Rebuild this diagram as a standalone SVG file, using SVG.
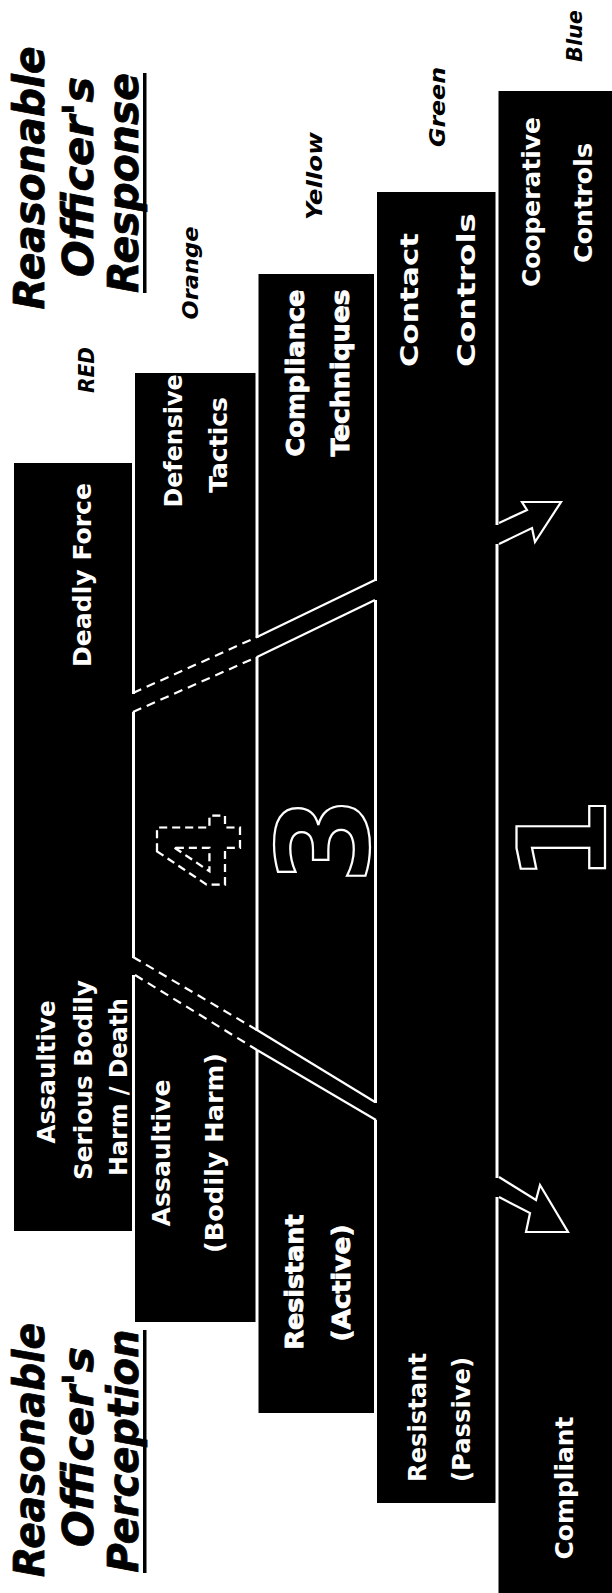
<svg xmlns="http://www.w3.org/2000/svg" width="612" height="1593" viewBox="0 0 612 1593">
<style>
.t{font-family:"DejaVu Sans",Verdana,sans-serif;font-weight:bold}
.title{font-size:42px;font-style:italic;fill:#000;stroke:#000;stroke-width:0.8}
.col{font-size:21px;font-style:italic;fill:#000}
.lbl{font-size:25px;fill:#fff}
.heavy{stroke:#fff;stroke-width:0.9}
.num{fill:none;stroke:#fff;stroke-width:2.2;font-family:"DejaVu Sans",sans-serif;font-weight:bold}
.band{fill:#000}
.ln{stroke:#fff;stroke-width:2.2;fill:none}
.dash{stroke-dasharray:9 6}
</style>
<rect width="612" height="1593" fill="#fff"/>

<g id="title-response">
<text class="t title" text-anchor="middle" transform="translate(44,178) rotate(-90)" textLength="263" lengthAdjust="spacingAndGlyphs">Reasonable</text>
<text class="t title" text-anchor="middle" transform="translate(93,177) rotate(-90)" textLength="200" lengthAdjust="spacingAndGlyphs">Officer's</text>
<text class="t title" text-anchor="middle" transform="translate(138,183) rotate(-90)" textLength="220" lengthAdjust="spacingAndGlyphs">Response</text>
<rect x="143" y="73" width="3.5" height="220" fill="#000"/>
</g>

<g id="title-perception">
<text class="t title" text-anchor="middle" transform="translate(44,1450) rotate(-90)" textLength="254" lengthAdjust="spacingAndGlyphs">Reasonable</text>
<text class="t title" text-anchor="middle" transform="translate(93,1447) rotate(-90)" textLength="200" lengthAdjust="spacingAndGlyphs">Officer's</text>
<text class="t title" text-anchor="middle" transform="translate(138,1451) rotate(-90)" textLength="243" lengthAdjust="spacingAndGlyphs">Perception</text>
<rect x="143" y="1330" width="3.5" height="243" fill="#000"/>
</g>

<g id="colour-labels">
<text class="t col" text-anchor="middle" transform="translate(94,370) rotate(-90)" textLength="46" lengthAdjust="spacingAndGlyphs">RED</text>
<text class="t col" text-anchor="middle" transform="translate(198,273) rotate(-90)" textLength="93" lengthAdjust="spacingAndGlyphs">Orange</text>
<text class="t col" text-anchor="middle" transform="translate(322,176) rotate(-90)" textLength="88" lengthAdjust="spacingAndGlyphs">Yellow</text>
<text class="t col" text-anchor="middle" transform="translate(445,107) rotate(-90)" textLength="80" lengthAdjust="spacingAndGlyphs">Green</text>
<text class="t col" text-anchor="middle" transform="translate(582,36) rotate(-90)" textLength="52" lengthAdjust="spacingAndGlyphs">Blue</text>
</g>

<g id="band-red">
<rect class="band" x="14" y="463" width="118" height="768"/>
<text class="t lbl" text-anchor="middle" transform="translate(91,575) rotate(-90)" textLength="184" lengthAdjust="spacingAndGlyphs">Deadly Force</text>
<text class="t lbl" text-anchor="middle" transform="translate(55,1072) rotate(-90)" textLength="143" lengthAdjust="spacingAndGlyphs">Assaultive</text>
<text class="t lbl" text-anchor="middle" transform="translate(92,1080) rotate(-90)" textLength="200" lengthAdjust="spacingAndGlyphs">Serious Bodily</text>
<text class="t lbl" text-anchor="middle" transform="translate(127,1087) rotate(-90)" textLength="178" lengthAdjust="spacingAndGlyphs">Harm / Death</text>
</g>

<g id="band-orange">
<rect class="band" x="135" y="373" width="120.5" height="949"/>
<text class="t lbl" text-anchor="middle" transform="translate(182,441) rotate(-90)" textLength="133" lengthAdjust="spacingAndGlyphs">Defensive</text>
<text class="t lbl" text-anchor="middle" transform="translate(227,445) rotate(-90)" textLength="96" lengthAdjust="spacingAndGlyphs">Tactics</text>
<text class="t lbl" text-anchor="middle" transform="translate(170,1153) rotate(-90)" textLength="147" lengthAdjust="spacingAndGlyphs">Assaultive</text>
<text class="t lbl" text-anchor="middle" transform="translate(223,1153) rotate(-90)" textLength="200" lengthAdjust="spacingAndGlyphs">(Bodily Harm)</text>
<text class="num" text-anchor="middle" font-size="114" stroke-dasharray="8 5" transform="translate(240,850) rotate(-90)">4</text>
</g>

<g id="band-yellow">
<rect class="band" x="258.5" y="274" width="115.5" height="1139"/>
<text class="t lbl heavy" text-anchor="middle" transform="translate(304,373) rotate(-90)" textLength="167" lengthAdjust="spacingAndGlyphs">Compliance</text>
<text class="t lbl heavy" text-anchor="middle" transform="translate(349,373) rotate(-90)" textLength="167" lengthAdjust="spacingAndGlyphs">Techniques</text>
<text class="t lbl heavy" text-anchor="middle" transform="translate(303,1282) rotate(-90)" textLength="135" lengthAdjust="spacingAndGlyphs">Resistant</text>
<text class="t lbl heavy" text-anchor="middle" transform="translate(350,1283) rotate(-90)" textLength="117" lengthAdjust="spacingAndGlyphs">(Active)</text>
<text class="num" text-anchor="middle" font-size="127" transform="translate(368,840) rotate(-90)">3</text>
</g>

<g id="band-green">
<rect class="band" x="377" y="192" width="118.5" height="1311"/>
<text class="t lbl" text-anchor="start" transform="translate(418,367) rotate(-90)" textLength="134" lengthAdjust="spacingAndGlyphs">Contact</text>
<text class="t lbl" text-anchor="start" transform="translate(475,367) rotate(-90)" textLength="154" lengthAdjust="spacingAndGlyphs">Controls</text>
<text class="t lbl" text-anchor="start" transform="translate(426,1482) rotate(-90)" textLength="129" lengthAdjust="spacingAndGlyphs">Resistant</text>
<text class="t lbl" text-anchor="start" transform="translate(470,1482) rotate(-90)" textLength="125" lengthAdjust="spacingAndGlyphs">(Passive)</text>
</g>

<g id="band-blue">
<rect class="band" x="498.5" y="91" width="113.5" height="1502"/>
<text class="t lbl" text-anchor="middle" transform="translate(540,202) rotate(-90)" textLength="170" lengthAdjust="spacingAndGlyphs">Cooperative</text>
<text class="t lbl" text-anchor="middle" transform="translate(592,203) rotate(-90)" textLength="120" lengthAdjust="spacingAndGlyphs">Controls</text>
<text class="t lbl" text-anchor="middle" transform="translate(573,1488) rotate(-90)" textLength="143" lengthAdjust="spacingAndGlyphs">Compliant</text>
<text class="num" text-anchor="middle" font-size="122" transform="translate(605,840) rotate(-90)">1</text>
</g>

<g id="connectors">
<g fill="#000">
<rect x="131" y="694" width="5" height="18"/>
<rect x="131" y="958" width="5" height="17"/>
<rect x="254" y="638" width="6" height="19"/>
<rect x="254" y="1031" width="6" height="19"/>
<rect x="373" y="581" width="5" height="19"/>
<rect x="373" y="1103" width="5" height="17"/>
<rect x="494" y="525" width="6" height="19"/>
<rect x="494" y="1178" width="6" height="19"/>
</g>
<polyline class="ln dash" points="133,693 257,637"/>
<polyline class="ln" points="257,637 375,580"/>
<polyline class="ln dash" points="133,712 257,657"/>
<polyline class="ln" points="257,657 375,600"/>
<polyline class="ln dash" points="133,957 257,1030"/>
<polyline class="ln" points="257,1030 375,1102"/>
<polyline class="ln dash" points="135,975 257,1050"/>
<polyline class="ln" points="257,1050 376,1120"/>
<polyline class="ln" points="499,523 527,510 522,502 561,502 535,542 532,528 499,544"/>
<polyline class="ln" points="499,1197 530,1213 526,1232 568,1232 540,1185 536,1200 499,1177"/>
</g>
</svg>
